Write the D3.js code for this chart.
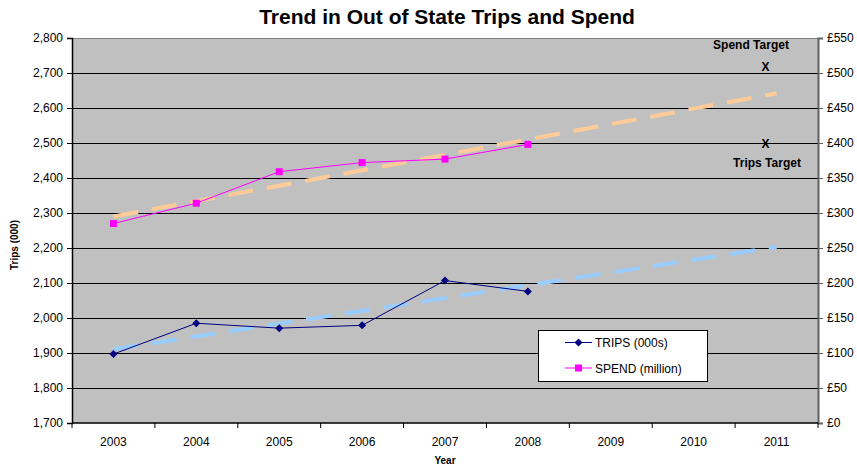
<!DOCTYPE html>
<html>
<head>
<meta charset="utf-8">
<script src="https://cdn.jsdelivr.net/npm/d3@7"></script>
<style>
  html, body { margin: 0; padding: 0; background: #fff; }
  svg { display: block; font-family: Arial, "Liberation Sans", sans-serif; }
</style>
</head>
<body>
<svg id="chart" width="857" height="475"></svg>
<script>
// Years on the category axis
const years = ["2003", "2004", "2005", "2006", "2007", "2008", "2009", "2010", "2011"];
// Out of state trips (000s), 2003-2008
const trips = [1897, 1985, 1971, 1979, 2107, 2076];
// Out of state spend (£ million), 2003-2008
const spend = [285, 314, 359, 372, 377, 398];
// Linear trend lines, start (2003) and end (2011) values
const tripsTrend = [1911, 2203];
const spendTrend = [295, 471];
// 2011 targets
const tripsTarget = 2500;
const spendTarget = 510;
// Axis ticks
const leftTicks = [1700, 1800, 1900, 2000, 2100, 2200, 2300, 2400, 2500, 2600, 2700, 2800];
const rightTicks = [0, 50, 100, 150, 200, 250, 300, 350, 400, 450, 500, 550];

const FONT = "Arial, 'Liberation Sans', sans-serif";
const svg = d3.select("#chart");
const m = { left: 72, right: 818, top: 38, bottom: 423 };

const x = d3.scaleBand().domain(years).range([m.left, m.right]).padding(0);
const cx = d => x(d) + x.bandwidth() / 2;
const yL = d3.scaleLinear().domain([1700, 2800]).range([m.bottom, m.top]);
const yR = d3.scaleLinear().domain([0, 550]).range([m.bottom, m.top]);

// Plot area
svg.append("rect")
  .attr("x", m.left).attr("y", m.top)
  .attr("width", m.right - m.left).attr("height", m.bottom - m.top)
  .attr("fill", "#c0c0c0");

// Horizontal gridlines
svg.append("g").selectAll("line").data(leftTicks.slice(1)).join("line")
  .attr("x1", m.left).attr("x2", m.right)
  .attr("y1", d => Math.round(yL(d)) + 0.5).attr("y2", d => Math.round(yL(d)) + 0.5)
  .attr("stroke", d => d === 2800 ? "#808080" : "#000")
  .attr("stroke-width", 1);

// Left axis
const gL = svg.append("g").attr("transform", `translate(${m.left},0)`)
  .call(d3.axisLeft(yL).tickValues(leftTicks).tickSize(5).tickPadding(4)
    .tickFormat(d3.format(",")));
gL.select(".domain").attr("stroke", "#000").attr("stroke-width", 1.5);
gL.selectAll("text").attr("font-size", 12).attr("fill", "#000").attr("font-family", FONT);

// Right axis
const gR = svg.append("g").attr("transform", `translate(${m.right},0)`)
  .call(d3.axisRight(yR).tickValues(rightTicks).tickSize(5).tickPadding(4)
    .tickFormat(d => "£" + d));
gR.select(".domain").attr("stroke", "#606060").attr("stroke-width", 2);
gR.selectAll(".tick line").attr("stroke", "#606060");
gR.selectAll("text").attr("font-size", 12).attr("fill", "#000").attr("font-family", FONT);

// Bottom axis: tick marks between categories
const gB = svg.append("g").attr("transform", `translate(0,${m.bottom})`);
gB.append("line").attr("x1", m.left).attr("x2", m.right)
  .attr("stroke", "#000").attr("stroke-width", 1.5);
const bounds = years.map(d => x(d)).concat([m.right]);
gB.selectAll("line.tk").data(bounds).join("line").attr("class", "tk")
  .attr("x1", d => d).attr("x2", d => d).attr("y1", 0).attr("y2", 5)
  .attr("stroke", "#000");
gB.selectAll("text").data(years).join("text")
  .attr("x", d => cx(d)).attr("y", 23)
  .attr("text-anchor", "middle").attr("font-size", 12).text(d => d);

// Trend lines
const trendDash = "25,14";
svg.append("line")
  .attr("x1", cx(years[0])).attr("y1", yL(tripsTrend[0]))
  .attr("x2", cx(years[years.length - 1])).attr("y2", yL(tripsTrend[1]))
  .attr("stroke", "#99ccff").attr("stroke-width", 4).attr("stroke-dasharray", trendDash);
svg.append("line")
  .attr("x1", cx(years[0])).attr("y1", yR(spendTrend[0]))
  .attr("x2", cx(years[years.length - 1])).attr("y2", yR(spendTrend[1]))
  .attr("stroke", "#ffcc99").attr("stroke-width", 4).attr("stroke-dasharray", trendDash);

// Diamond marker path (square rotated 45°)
const diamondPath = "M0,-4L4,0L0,4L-4,0Z";

// Trips series
const tripsLine = d3.line().x((d, i) => cx(years[i])).y(d => yL(d));
svg.append("path").attr("d", tripsLine(trips))
  .attr("fill", "none").attr("stroke", "#000080").attr("stroke-width", 1);
svg.append("g").selectAll("path").data(trips).join("path")
  .attr("d", diamondPath)
  .attr("transform", (d, i) => `translate(${cx(years[i])},${yL(d)})`)
  .attr("fill", "#000080");

// Spend series
const spendLine = d3.line().x((d, i) => cx(years[i])).y(d => yR(d));
svg.append("path").attr("d", spendLine(spend))
  .attr("fill", "none").attr("stroke", "#ff00ff").attr("stroke-width", 1);
svg.append("g").selectAll("rect").data(spend).join("rect")
  .attr("x", (d, i) => cx(years[i]) - 3.5).attr("y", d => yR(d) - 3.5)
  .attr("width", 7).attr("height", 7).attr("fill", "#ff00ff");

// Targets
const tx = cx("2011") - 11;
svg.append("text").attr("x", tx).attr("y", yR(spendTarget) + 4.5)
  .attr("text-anchor", "middle").attr("font-size", 12).attr("font-weight", "bold").text("X");
svg.append("text").attr("x", tx).attr("y", yL(tripsTarget) + 4.5)
  .attr("text-anchor", "middle").attr("font-size", 12).attr("font-weight", "bold").text("X");
svg.append("text").attr("x", 751).attr("y", 48.5)
  .attr("text-anchor", "middle").attr("font-size", 12).attr("font-weight", "bold").text("Spend Target");
svg.append("text").attr("x", 767).attr("y", 166.5)
  .attr("text-anchor", "middle").attr("font-size", 12).attr("font-weight", "bold").text("Trips Target");

// Legend
const lg = svg.append("g");
lg.append("rect").attr("x", 538.5).attr("y", 330.5).attr("width", 169).attr("height", 51)
  .attr("fill", "#fff").attr("stroke", "#000").attr("stroke-width", 1);
const legendItems = [
  { label: "TRIPS (000s)", color: "#000080", kind: "diamond", y: 342.5 },
  { label: "SPEND (million)", color: "#ff00ff", kind: "square", y: 368 }
];
legendItems.forEach(it => {
  lg.append("line").attr("x1", 565).attr("x2", 592).attr("y1", it.y).attr("y2", it.y)
    .attr("stroke", it.color).attr("stroke-width", 1);
  if (it.kind === "diamond") {
    lg.append("path").attr("d", diamondPath).attr("transform", `translate(578.5,${it.y})`)
      .attr("fill", it.color);
  } else {
    lg.append("rect").attr("x", 575).attr("y", it.y - 3.5).attr("width", 7).attr("height", 7)
      .attr("fill", it.color);
  }
  lg.append("text").attr("x", 595).attr("y", it.y + 4.5).attr("font-size", 12).text(it.label);
});

// Titles
svg.append("text").attr("x", 447).attr("y", 24).attr("text-anchor", "middle")
  .attr("font-size", 21).attr("font-weight", "bold").text("Trend in Out of State Trips and Spend");
svg.append("text").attr("x", 445).attr("y", 464).attr("text-anchor", "middle")
  .attr("font-size", 10).attr("font-weight", "bold").text("Year");
svg.append("text").attr("transform", "translate(18,245) rotate(-90)").attr("text-anchor", "middle")
  .attr("font-size", 10).attr("font-weight", "bold").text("Trips (000)");
</script>
</body>
</html>
